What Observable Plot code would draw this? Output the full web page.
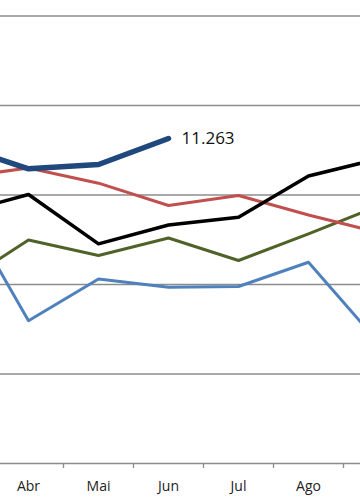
<!DOCTYPE html>
<html>
<head>
<meta charset="utf-8">
<script src="https://cdn.jsdelivr.net/npm/d3@7"></script>
<script src="https://cdn.jsdelivr.net/npm/@observablehq/plot@0.6"></script>
<style>
  html, body { margin: 0; padding: 0; background: #fff; }
  #chart { width: 360px; height: 504px; overflow: hidden; }
</style>
</head>
<body>
<div id="chart"></div>
<script>
const months = ["Mar", "Abr", "Mai", "Jun", "Jul", "Ago", "Set"];
const seriesNames = ["2008", "2009", "2010", "2011", "2012"];
const lightBlue = [9922, 7189, 8123, 7940, 7955, 8498, 6704];
const green     = [7978, 8994, 8648, 9039, 8536, 9131, 9754];
const red       = [10391, 10603, 10264, 9765, 9989, 9553, 9162];
const black     = [9587, 10011, 8909, 9330, 9504, 10424, 10807];
const darkBlue  = [11106, 10585, 10681, 11263, null, null, null];
const gridTicks = [4000, 6000, 8000, 10000, 12000, 14000];

const colors = ["#4F81BD", "#4F6228", "#C0504D", "#000000", "#1F497D"];
const widths = [3, 3, 3, 3.5, 5.5];
const allSeries = [lightBlue, green, red, black, darkBlue];

const rows = [];
allSeries.forEach((vals, s) => {
  vals.forEach((v, i) => {
    if (v != null) rows.push({series: seriesNames[s], month: months[i], value: v});
  });
});

const fmt = d3.formatLocale({decimal: ",", thousands: ".", grouping: [3], currency: ["", ""]}).format(",");
const lastDark = rows.filter(d => d.series === "2012").slice(-1);

const lineMarks = seriesNames.map((name, s) =>
  Plot.line(rows.filter(d => d.series === name), {
    x: "month", y: "value",
    stroke: colors[s], strokeWidth: widths[s],
    strokeLinejoin: "round", strokeLinecap: s === 4 ? "round" : "butt",
    clip: true
  })
);

const chart = Plot.plot({
  width: 360,
  height: 504,
  marginLeft: 0,
  marginRight: 0,
  marginTop: 15.5,
  marginBottom: 41,
  style: {fontFamily: "'Open Sans', sans-serif", background: "#fff"},
  x: {type: "point", domain: months, range: [-42, 378], padding: 0, axis: null, label: null},
  y: {domain: [4000, 14000], axis: null},
  marks: [
    Plot.ruleY(gridTicks, {stroke: "#8c8c8c", strokeWidth: 1.3}),
    Plot.axisX(months.slice(2), {tickSize: 5, dx: -35, stroke: "#8c8c8c", strokeWidth: 1.3, tickFormat: () => "", label: null}),
    Plot.axisX(months.slice(1, 6), {tickSize: 0, tickPadding: 18, fontSize: 14, fill: "#222", label: null}),
    ...lineMarks,
    Plot.text(lastDark, {x: "month", y: "value", text: d => fmt(d.value), dx: 13, textAnchor: "start", fontSize: 17, fill: "#111"})
  ]
});
document.getElementById("chart").appendChild(chart);
</script>
</body>
</html>
